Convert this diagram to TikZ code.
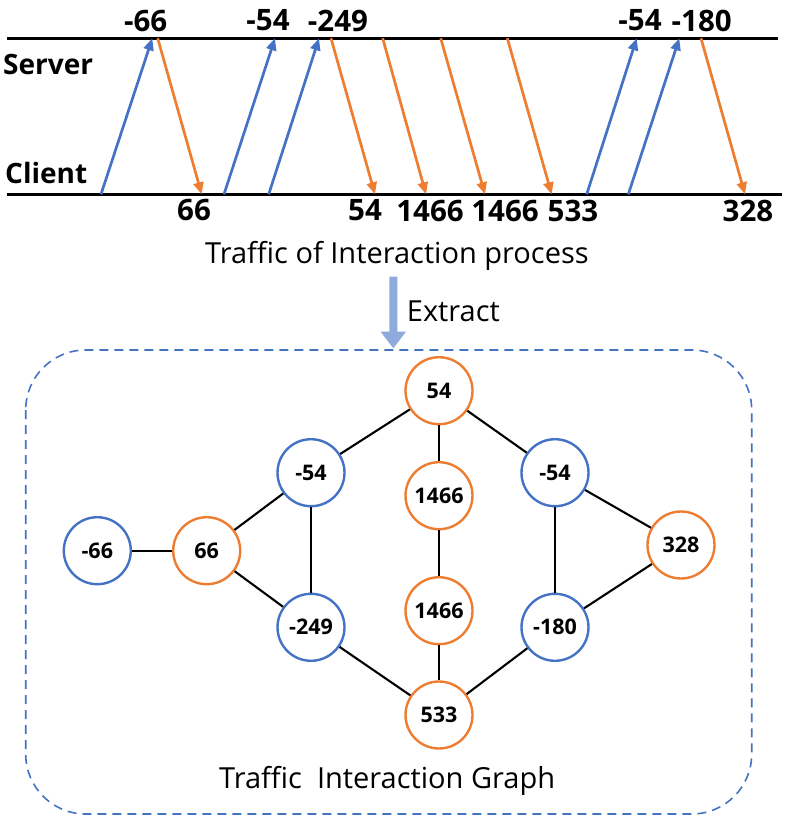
\documentclass[tikz,border=0pt]{standalone}
\usepackage{fontspec}
\setmainfont{Open Sans}
\usetikzlibrary{arrows.meta}
\definecolor{cblue}{HTML}{4472C4}
\definecolor{corange}{HTML}{ED7D31}
\definecolor{lblue}{HTML}{8FAADC}
\begin{document}
\begin{tikzpicture}[x=1pt,y=-1pt,
  upar/.style={cblue, line width=2.7pt, -{Triangle[length=12pt,width=10pt]}},
  dnar/.style={corange, line width=2.7pt, -{Triangle[length=12pt,width=10pt]}},
  bn/.style={circle, draw=cblue, line width=2.4pt, minimum size=67pt, inner sep=0pt, font=\fontsize{21.5}{24}\selectfont\bfseries},
  on/.style={bn, draw=corange},
  lab/.style={font=\fontsize{29.5}{30}\selectfont\bfseries, inner sep=0pt},
  side/.style={font=\fontsize{28}{30}\selectfont\bfseries, inner sep=0pt},
  txt/.style={font=\fontsize{29}{30}\selectfont, inner sep=0pt},
  edge/.style={line width=2.1pt, black}]
\useasboundingbox (0,0) rectangle (788,820);

% timeline
\coordinate (sL) at (7,38.3);
\coordinate (sR) at (778,38.3);
\coordinate (cL) at (7,194.3);
\coordinate (cR) at (782,194.3);
\draw[line width=3pt] (sL) -- (sR);
\draw[line width=3pt] (cL) -- (cR);
\node[side, anchor=west] (server) at (3,64) {Server};
\node[side, anchor=west] (client) at (5,173) {Client};

% up arrows (client -> server)
\coordinate (u1a) at (101,194.3);   \coordinate (u1b) at (152.3,38.3);
\coordinate (u2a) at (224,194.3);   \coordinate (u2b) at (275,38.3);
\coordinate (u3a) at (268.7,194.3); \coordinate (u3b) at (319,38.3);
\coordinate (u4a) at (586.7,194.3); \coordinate (u4b) at (636.7,38.3);
\coordinate (u5a) at (628.3,194.3); \coordinate (u5b) at (679.3,38.3);
\foreach \i in {1,...,5} \draw[upar] (u\i a) -- (u\i b);

% down arrows (server -> client)
\coordinate (d1a) at (157.7,38.3); \coordinate (d1b) at (201.7,194.3);
\coordinate (d2a) at (331,38.3);   \coordinate (d2b) at (375,194.3);
\coordinate (d3a) at (382.7,38.3); \coordinate (d3b) at (426,194.3);
\coordinate (d4a) at (440.7,38.3); \coordinate (d4b) at (485,194.3);
\coordinate (d5a) at (507.3,38.3); \coordinate (d5b) at (551.7,194.3);
\coordinate (d6a) at (701,38.3);   \coordinate (d6b) at (745,194.3);
\foreach \i in {1,...,6} \draw[dnar] (d\i a) -- (d\i b);

% top labels
\node[lab] (t1) at (145.7,20.5) {-66};
\node[lab] (t2) at (268,20.5) {-54};
\node[lab] (t3) at (338,20.5) {-249};
\node[lab] (t4) at (640,20.5) {-54};
\node[lab] (t5) at (701.7,20.5) {-180};
% bottom labels
\node[lab] (b1) at (194,210) {66};
\node[lab] (b2) at (365,210.5) {54};
\node[lab] (b3) at (430,211) {1466};
\node[lab] (b4) at (505,211) {1466};
\node[lab] (b5) at (573,211) {533};
\node[lab] (b6) at (748,211) {328};

\node[txt, anchor=base west] (title1) at (205,263.3) {Traffic of Interaction process};
\node[txt, anchor=base west] (extract) at (406.7,321.7) {Extract};

% extract arrow
\fill[lblue] (389.3,276.7) -- (397.3,276.7) -- (397.3,331.7) -- (406,331.7)
  -- (393.3,348.3) -- (380.6,331.7) -- (389.3,331.7) -- cycle;

% dashed frame
\draw[cblue, line width=1.6pt, dash pattern=on 9pt off 6pt, rounded corners=60pt]
  (25.7,350) rectangle (751.7,814);
\node[txt, anchor=base west] (title2) at (219,788.3) {Traffic\ \ Interaction Graph};

% graph
\node[bn] (n1) at (97.3,550.7) {-66};
\node[on] (n2) at (206.7,550.7) {66};
\node[bn] (n3) at (311,472.7) {-54};
\node[bn] (n4) at (311,627.3) {-249};
\node[on] (n5) at (439,390.7) {54};
\node[on] (n6) at (439,495.7) {1466};
\node[on] (n7) at (439,610.7) {1466};
\node[on] (n8) at (439,715) {533};
\node[bn] (n9) at (555,472.7) {-54};
\node[bn] (n10) at (555,627.3) {-180};
\node[on] (n11) at (681,545) {328};

\draw[edge] (n1) -- (n2);
\draw[edge] (n2) -- (n3);
\draw[edge] (n2) -- (n4);
\draw[edge] (n3) -- (n4);
\draw[edge] (n3) -- (n5);
\draw[edge] (n4) -- (n8);
\draw[edge] (n5) -- (n6);
\draw[edge] (n6) -- (n7);
\draw[edge] (n7) -- (n8);
\draw[edge] (n5) -- (n9);
\draw[edge] (n8) -- (n10);
\draw[edge] (n9) -- (n10);
\draw[edge] (n9) -- (n11);
\draw[edge] (n10) -- (n11);
\end{tikzpicture}
\end{document}
